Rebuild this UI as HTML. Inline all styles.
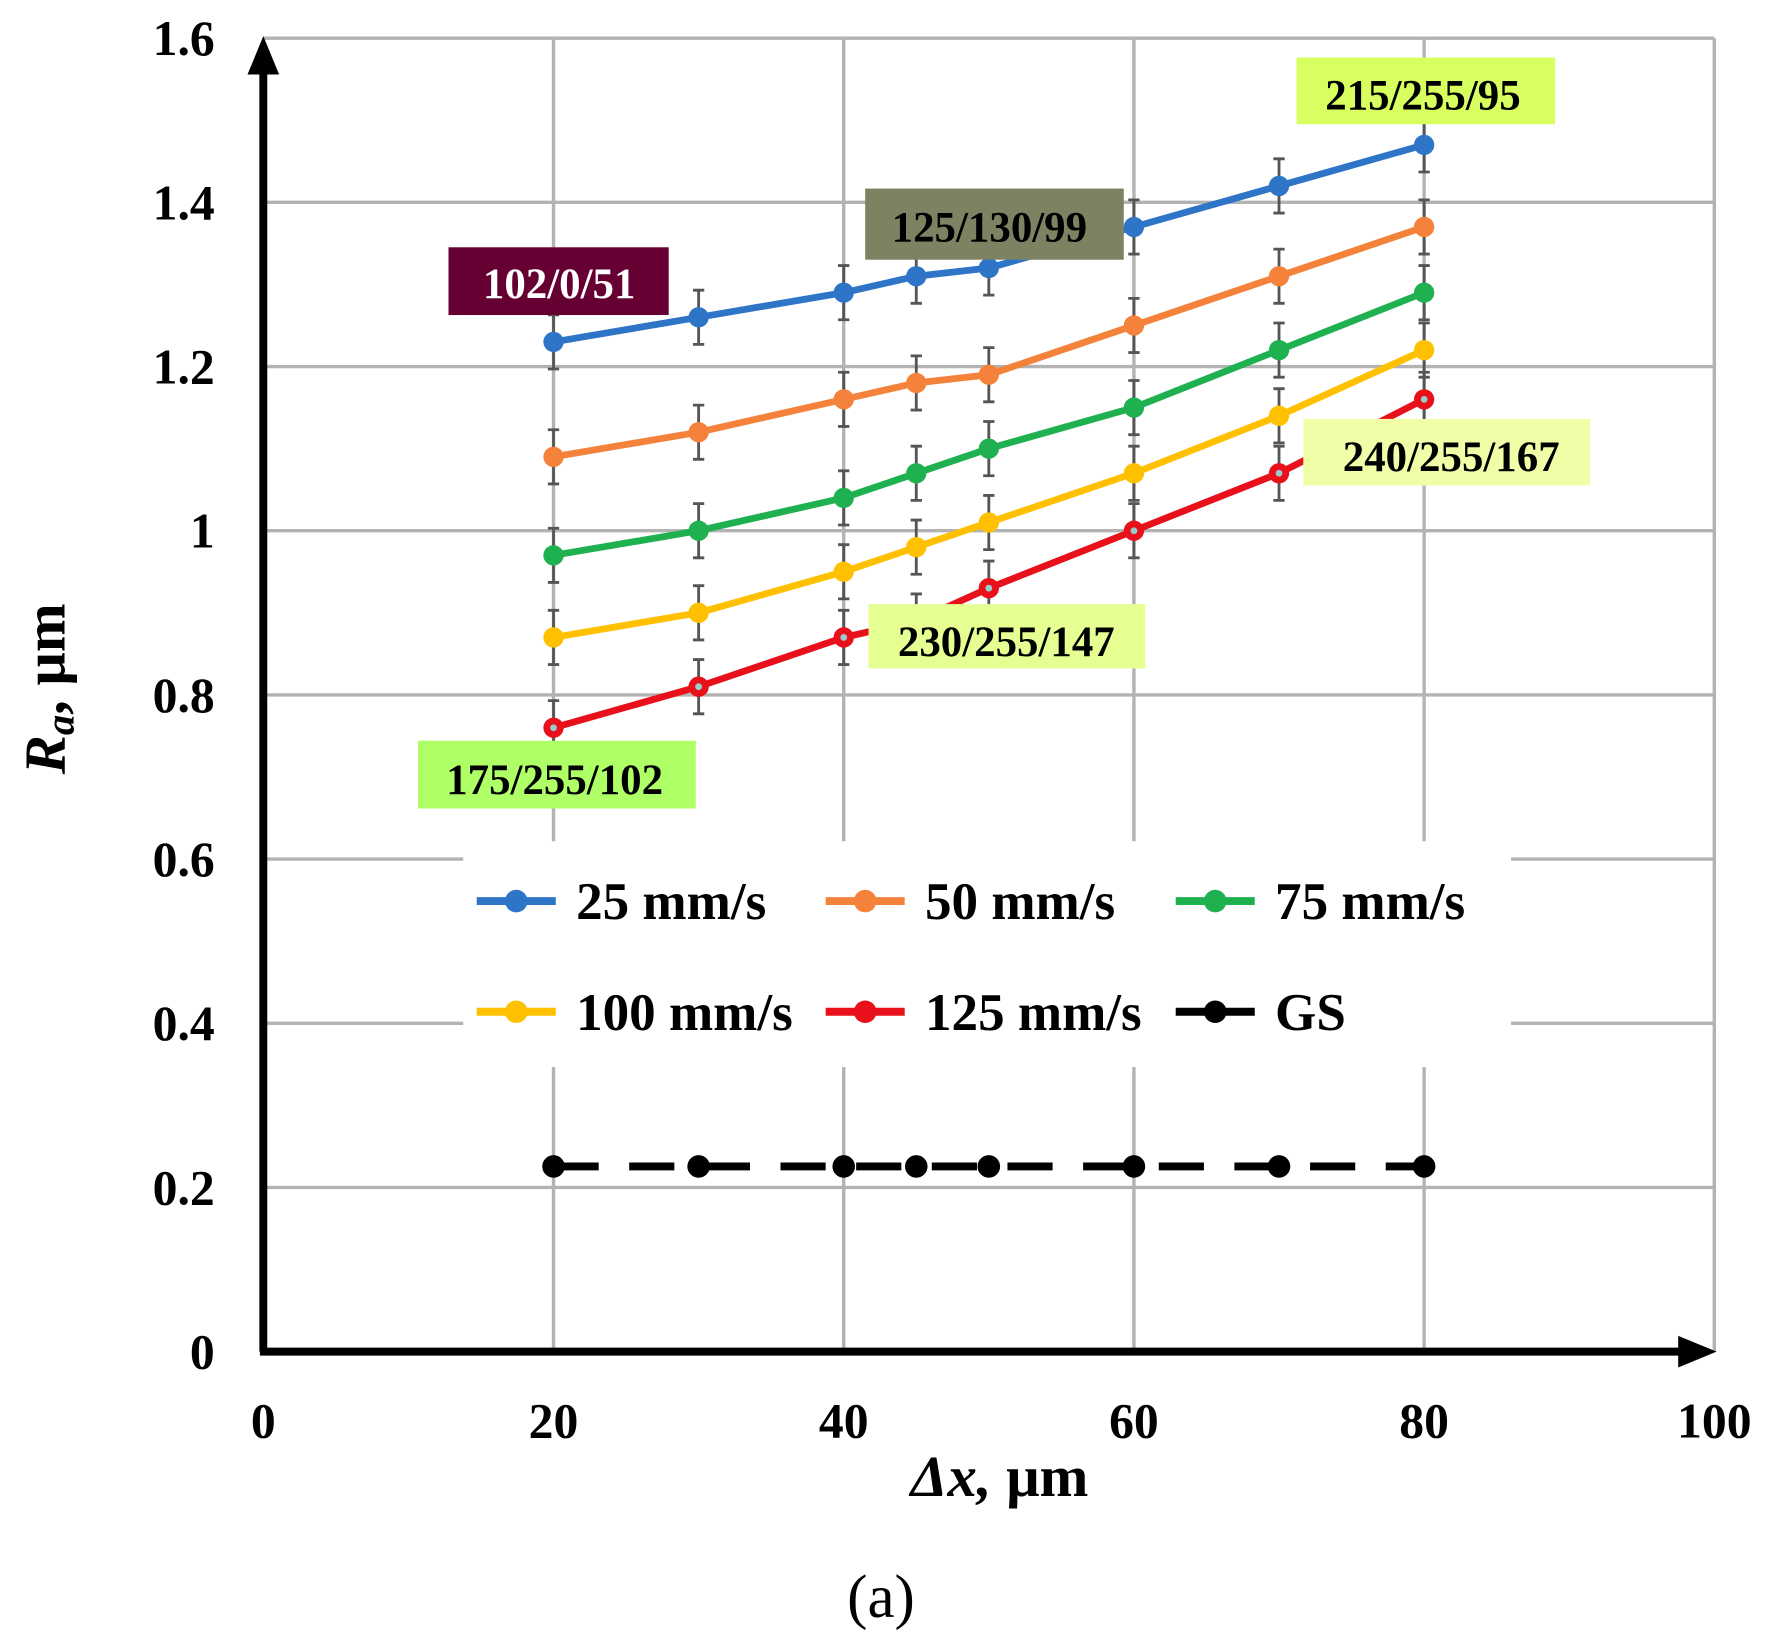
<!DOCTYPE html>
<html><head><style>html,body{margin:0;padding:0;background:#fff}svg{display:block}</style></head>
<body>
<svg id="s" xmlns="http://www.w3.org/2000/svg" width="1771" height="1652" viewBox="0 0 1568 1463" font-family="Liberation Serif, serif" font-weight="bold">
<rect width="1568" height="1463" fill="#fff"/>
<g id="grid" stroke="#b3b3b3" stroke-width="3"></g>
<g id="data"></g>
<rect x="410" y="745" width="928" height="200" fill="#fff"/>
<g id="leg"></g>
<line x1="233" y1="1197" x2="233" y2="62" stroke="#000" stroke-width="7"/>
<polygon points="233,32 219,66 247,66" fill="#000"/>
<line x1="230" y1="1197" x2="1490" y2="1197" stroke="#000" stroke-width="7"/>
<polygon points="1520,1197 1486,1183 1486,1211" fill="#000"/>
<g id="ticks" font-size="44"></g>
<text x="885" y="1325" font-size="52" text-anchor="middle" font-style="italic">Δx, <tspan font-style="normal">μm</tspan></text>
<text transform="translate(57,610) rotate(-90)" font-size="52" text-anchor="middle"><tspan font-style="italic">R<tspan font-size="36" dy="8">a</tspan></tspan><tspan dy="-8">, μm</tspan></text>
<text x="780" y="1432" font-size="54" font-weight="normal" text-anchor="middle">(a)</text>
<g font-size="38">
<rect x="397" y="219" width="195" height="60" fill="rgb(102,0,51)"/><text x="495" y="264" fill="#fff" text-anchor="middle">102/0/51</text>
<rect x="766" y="167" width="229" height="63" fill="rgb(125,130,99)"/><text x="876" y="214" text-anchor="middle">125/130/99</text>
<rect x="1148" y="51" width="229" height="59" fill="rgb(215,255,95)"/><text x="1260" y="97" text-anchor="middle">215/255/95</text>
<rect x="1154" y="371" width="254" height="59" fill="rgb(240,255,167)"/><text x="1285" y="417" text-anchor="middle">240/255/167</text>
<rect x="769" y="535" width="245" height="57" fill="rgb(230,255,147)"/><text x="891" y="581" text-anchor="middle">230/255/147</text>
<rect x="370" y="656" width="246" height="60" fill="rgb(175,255,102)"/><text x="491" y="703" text-anchor="middle">175/255/102</text>
</g>
</svg>
<script>
const NS="http://www.w3.org/2000/svg";
function X(v){return 233+v*12.85}function Y(v){return 1197-v*727}
function el(p,t,a,txt){const e=document.createElementNS(NS,t);for(const k in a)e.setAttribute(k,a[k]);if(txt!=null)e.textContent=txt;document.getElementById(p).appendChild(e);return e}
for(let i=1;i<=5;i++)el('grid','line',{x1:X(i*20),y1:34,x2:X(i*20),y2:1197});
for(let i=1;i<=8;i++)el('grid','line',{x1:233,y1:Y(i*0.2),x2:1518,y2:Y(i*0.2)});
const yl=['0','0.2','0.4','0.6','0.8','1','1.2','1.4','1.6'];
yl.forEach((t,i)=>el('ticks','text',{x:190,y:Y(i*0.2)+15,'text-anchor':'end'},t));
[0,20,40,60,80,100].forEach(v=>el('ticks','text',{x:X(v),y:1273,'text-anchor':'middle'},v));
const xs=[20,30,40,45,50,60,70,80];
const S=[["#2e75c8",[1.23,1.26,1.29,1.31,1.32,1.37,1.42,1.47]],
["#f5823a",[1.09,1.12,1.16,1.18,1.19,1.25,1.31,1.37]],
["#1fb050",[.97,1.00,1.04,1.07,1.10,1.15,1.22,1.29]],
["#ffc000",[.87,.90,.95,.98,1.01,1.07,1.14,1.22]],
["#e8111b",[.76,.81,.87,.89,.93,1.00,1.07,1.16]]];
S.forEach(([c,d],si)=>{
 d.forEach((v,i)=>{const x=X(xs[i]);el('data','path',{d:`M${x},${Y(v)-24}V${Y(v)+24}M${x-5},${Y(v)-24}h10M${x-5},${Y(v)+24}h10`,stroke:'#555','stroke-width':2.5,fill:'none'})});
 el('data','polyline',{points:d.map((v,i)=>X(xs[i])+','+Y(v)).join(' '),stroke:c,'stroke-width':6,fill:'none'});
 d.forEach((v,i)=>{el('data','circle',{cx:X(xs[i]),cy:Y(v),r:9,fill:c});if(si==4)el('data','circle',{cx:X(xs[i]),cy:Y(v),r:3,fill:'#9cc'})});
});
el('data','line',{x1:X(20),y1:1033,x2:X(80),y2:1033,stroke:'#000','stroke-width':7,'stroke-dasharray':'40,27'});
xs.forEach(x=>el('data','circle',{cx:X(x),cy:1033,r:10,fill:'#000'}));
const L=[["#2e75c8","25 mm/s",422,798],["#f5823a","50 mm/s",731,798],["#1fb050","75 mm/s",1041,798],["#ffc000","100 mm/s",422,896],["#e8111b","125 mm/s",731,896],["#000","GS",1041,896]];
L.forEach(([c,t,x,y])=>{el('leg','line',{x1:x,y1:y,x2:x+70,y2:y,stroke:c,'stroke-width':7});el('leg','circle',{cx:x+35,cy:y,r:10,fill:c});
 el('leg','text',{x:x+88,y:y+16,'font-size':47},t)});
</script>
</body></html>
